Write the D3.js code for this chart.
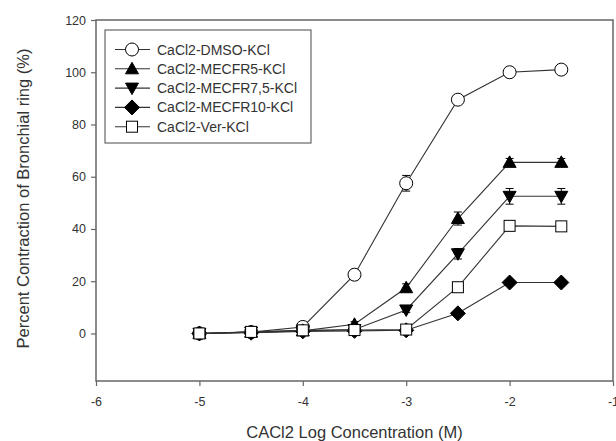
<!DOCTYPE html>
<head>
<meta charset="utf-8">
<title>CaCl2 contraction curves</title>
<style>
  body { margin: 0; padding: 0; background: #fff; font-family: 'Liberation Sans', Arial, sans-serif; }
  .tick text { fill: #333; font-size: 12.5px; font-family: 'Liberation Sans', Arial, sans-serif; }
  .label { fill: #333; font-size: 16.5px; }
  .legend text { fill: #333; font-size: 14px; }
</style>
</head>
<body>
<div id="vis"></div>
<script src="https://cdn.jsdelivr.net/npm/d3@7"></script>
<script>
var logConc = [-5, -4.5, -4, -3.5, -3, -2.5, -2, -1.5];
var seriesNames = ['CaCl2-DMSO-KCl', 'CaCl2-MECFR5-KCl', 'CaCl2-MECFR7,5-KCl', 'CaCl2-MECFR10-KCl', 'CaCl2-Ver-KCl'];
var dmso     = [0, 0.5, 2.5, 22.5, 57.5, 89.5, 100, 101];
var mecfr5   = [0, 0.5, 1, 3.5, 17.5, 44, 65.5, 65.5];
var mecfr75  = [0, 0.5, 1, 1.5, 9, 30.5, 52.5, 52.5];
var mecfr10  = [0, 0.3, 0.8, 1, 1.2, 7.7, 19.5, 19.5];
var ver      = [0, 0.6, 1.2, 1.3, 1.5, 17.7, 41.2, 41];
var dmsoErr    = [0.5, 0.5, 0.5, 1, 3, 1, 1, 1];
var mecfr5Err  = [0.5, 0.5, 0.5, 1, 1.5, 2.5, 1.5, 1.5];
var mecfr75Err = [0.5, 0.5, 0.5, 0.5, 1, 2, 3, 3];
var mecfr10Err = [0.5, 0.5, 0.5, 0.5, 0.5, 1, 1, 1];
var verErr     = [0.5, 0.5, 0.5, 0.5, 0.5, 0.5, 0.5, 0.5];
var xTicks = [-6, -5, -4, -3, -2, -1];
var yTicks = [0, 20, 40, 60, 80, 100, 120];

var width = 616, height = 441,
    plotLeft = 96, plotRight = 613, plotTop = 20, plotBottom = 381;

var x = d3.scaleLinear().domain([-6, -1]).range([plotLeft, plotRight]);
var y = d3.scaleLinear().domain([-18.2, 120]).range([plotBottom, plotTop]);

var svg = d3.select('#vis').append('svg')
    .attr('width', width)
    .attr('height', height);

// frame
svg.append('rect')
    .attr('x', plotLeft).attr('y', plotTop)
    .attr('width', plotRight - plotLeft).attr('height', plotBottom - plotTop)
    .attr('fill', 'none').attr('stroke', '#666').attr('stroke-width', 1.5);

var xAxis = svg.append('g')
    .attr('transform', 'translate(0,' + plotBottom + ')')
    .call(d3.axisBottom(x).tickValues(xTicks).tickSize(5).tickPadding(11).tickFormat(d3.format('d')));
var yAxis = svg.append('g')
    .attr('transform', 'translate(' + plotLeft + ',0)')
    .call(d3.axisLeft(y).tickValues(yTicks).tickSize(5).tickPadding(5));
[xAxis, yAxis].forEach(function(a) {
  a.select('.domain').remove();
  a.selectAll('.tick line').attr('stroke', '#666').attr('stroke-width', 1.2);
  a.selectAll('.tick text').text(function(d) { return String(d).replace('\u2212', '-'); });
});

svg.append('text').attr('class', 'label')
    .attr('x', (plotLeft + plotRight) / 2).attr('y', 438)
    .attr('text-anchor', 'middle')
    .text('CACl2 Log Concentration (M)');
svg.append('text').attr('class', 'label')
    .attr('transform', 'translate(29,' + ((plotTop + plotBottom) / 2 - 2) + ') rotate(-90)')
    .attr('text-anchor', 'middle')
    .text('Percent Contraction of Bronchial ring (%)');

function marker(sel, type) {
  if (type == 'circle') {
    sel.append('circle').attr('r', 6.5).attr('fill', '#fff');
  } else if (type == 'square') {
    sel.append('rect').attr('x', -5.5).attr('y', -5.5).attr('width', 11).attr('height', 11).attr('fill', '#fff');
  } else if (type == 'up') {
    sel.append('path').attr('d', 'M0,-6.5L6.5,5L-6.5,5Z').attr('fill', '#000');
  } else if (type == 'down') {
    sel.append('path').attr('d', 'M0,6.5L6.5,-5L-6.5,-5Z').attr('fill', '#000');
  } else {
    sel.append('path').attr('d', 'M0,-7.5L7.5,0L0,7.5L-7.5,0Z').attr('fill', '#000');
  }
  sel.selectAll('*').attr('stroke', '#000').attr('stroke-width', 1);
}

var series = [
  { name: seriesNames[0], vals: dmso, err: dmsoErr, type: 'circle' },
  { name: seriesNames[1], vals: mecfr5, err: mecfr5Err, type: 'up' },
  { name: seriesNames[2], vals: mecfr75, err: mecfr75Err, type: 'down' },
  { name: seriesNames[3], vals: mecfr10, err: mecfr10Err, type: 'diamond' },
  { name: seriesNames[4], vals: ver, err: verErr, type: 'square' }
];

var line = d3.line()
    .x(function(d) { return x(d.x); })
    .y(function(d) { return y(d.y); });

series.forEach(function(s) {
  var pts = logConc.map(function(c, i) { return { x: c, y: s.vals[i], e: s.err[i] }; });
  var g = svg.append('g');
  g.append('path').datum(pts).attr('d', line)
      .attr('fill', 'none').attr('stroke', '#333').attr('stroke-width', 1.1);
  var eb = g.selectAll('.err').data(pts).enter().append('g');
  eb.append('line')
      .attr('x1', function(d) { return x(d.x); }).attr('x2', function(d) { return x(d.x); })
      .attr('y1', function(d) { return y(d.y - d.e); }).attr('y2', function(d) { return y(d.y + d.e); });
  eb.append('line')
      .attr('x1', function(d) { return x(d.x) - 4; }).attr('x2', function(d) { return x(d.x) + 4; })
      .attr('y1', function(d) { return y(d.y + d.e); }).attr('y2', function(d) { return y(d.y + d.e); });
  eb.append('line')
      .attr('x1', function(d) { return x(d.x) - 4; }).attr('x2', function(d) { return x(d.x) + 4; })
      .attr('y1', function(d) { return y(d.y - d.e); }).attr('y2', function(d) { return y(d.y - d.e); });
  eb.selectAll('line').attr('stroke', '#000').attr('stroke-width', 1);
  g.selectAll('.pt').data(pts).enter().append('g')
      .attr('transform', function(d) { return 'translate(' + [x(d.x), y(d.y)] + ')'; })
      .each(function() { marker(d3.select(this), s.type); });
});

// legend
var legend = svg.append('g').attr('class', 'legend');
legend.append('rect')
    .attr('x', 105).attr('y', 30).attr('width', 206).attr('height', 113)
    .attr('fill', '#fff').attr('stroke', '#666').attr('stroke-width', 1.2);
var item = legend.selectAll('.item').data(series).enter().append('g')
    .attr('transform', function(d, i) { return 'translate(0,' + (49.5 + i * 19.3) + ')'; });
item.append('line').attr('x1', 115).attr('x2', 150)
    .attr('stroke', '#333').attr('stroke-width', 1.1);
item.append('g').attr('transform', 'translate(132,0)')
    .each(function(d) { marker(d3.select(this), d.type); });
item.append('text').attr('x', 157).attr('y', 5).text(function(d) { return d.name; });
</script>
</body>
